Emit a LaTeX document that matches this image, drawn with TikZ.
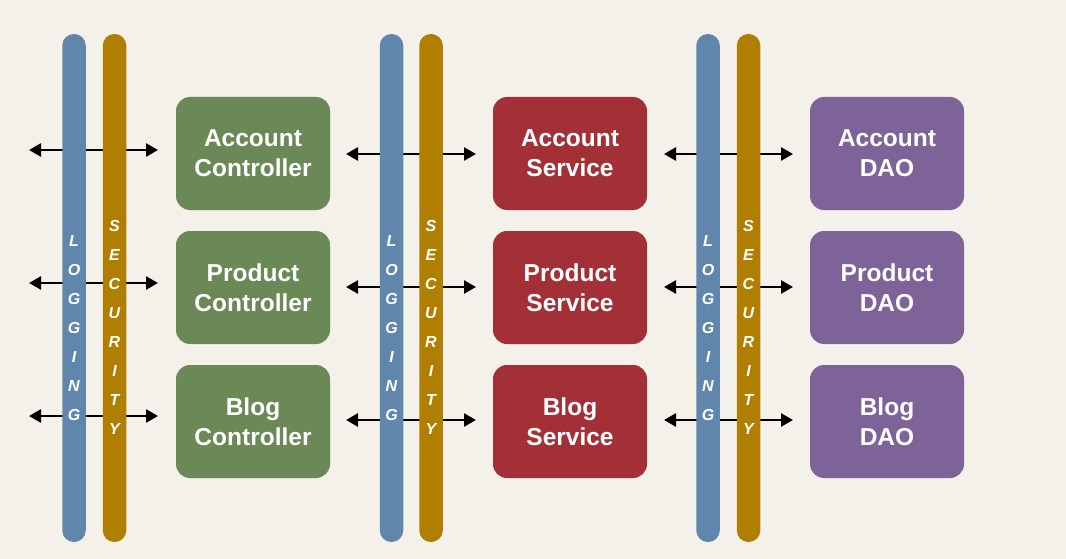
\documentclass[tikz,border=0pt]{standalone}
\usepackage{fontspec}
\setmainfont{Liberation Sans}
\usetikzlibrary{arrows.meta}
\definecolor{bg}{HTML}{F4F1EA}
\definecolor{logblue}{HTML}{6186AB}
\definecolor{secgold}{HTML}{B07F02}
\definecolor{ctrlgreen}{HTML}{6A8956}
\definecolor{servred}{HTML}{A33036}
\definecolor{daopurple}{HTML}{7E6399}
\tikzset{
  barlog/.style={fill=logblue, rounded corners=11.5pt},
  barsec/.style={fill=secgold, rounded corners=11.5pt},
  boxbase/.style={minimum width=154pt, minimum height=113pt, rounded corners=14pt, text=white,
    font=\fontsize{24.5}{30}\selectfont\bfseries, align=center, inner sep=0pt},
  ctrl/.style={boxbase, fill=ctrlgreen},
  serv/.style={boxbase, fill=servred},
  dao/.style={boxbase, fill=daopurple},
  letter/.style={text=white, font=\fontsize{16}{16}\selectfont\bfseries\itshape, inner sep=0pt},
  conn/.style={line width=2.6pt, line cap=round, {Triangle[length=12pt,width=13pt]}-{Triangle[length=12pt,width=13pt]}},
}
\begin{document}
\begin{tikzpicture}[x=1pt,y=-1pt]
\fill[bg] (0,0) rectangle (1066,559);
\useasboundingbox (0,0) rectangle (1066,559);
% connectors (behind bars)
\foreach \r/\ya/\yb in {1/150/154, 2/283/287, 3/416/420}{
  \coordinate (a\r L) at (29,\ya); \coordinate (a\r R) at (158,\ya);
  \coordinate (b\r L) at (346,\yb); \coordinate (b\r R) at (476,\yb);
  \coordinate (c\r L) at (664,\yb); \coordinate (c\r R) at (793,\yb);
  \draw[conn] (a\r L) -- (a\r R);
  \draw[conn] (b\r L) -- (b\r R);
  \draw[conn] (c\r L) -- (c\r R);
}
% bars
\foreach \g/\xl/\xs in {1/74/114.5, 2/391.5/431, 3/708/748.5}{
  \fill[barlog] (\xl-11.75,34) rectangle (\xl+11.75,542);
  \fill[barsec] (\xs-11.75,34) rectangle (\xs+11.75,542);
  \foreach \ch [count=\i] in {L,O,G,G,I,N,G}{
    \node[letter] (log\g-\i) at (\xl,{241+29*(\i-1)}) {\ch};
  }
  \foreach \ch [count=\i] in {S,E,C,U,R,I,T,Y}{
    \node[letter] (sec\g-\i) at (\xs,{226+29*(\i-1)}) {\ch};
  }
}
% boxes
\node[ctrl] (accctrl) at (253,153.5) {Account\\Controller};
\node[ctrl] (prodctrl) at (253,287.5) {Product\\Controller};
\node[ctrl] (blogctrl) at (253,421.5) {Blog\\Controller};
\node[serv] (accserv) at (570,153.5) {Account\\Service};
\node[serv] (prodserv) at (570,287.5) {Product\\Service};
\node[serv] (blogserv) at (570,421.5) {Blog\\Service};
\node[dao] (accdao) at (887,153.5) {Account\\DAO};
\node[dao] (proddao) at (887,287.5) {Product\\DAO};
\node[dao] (blogdao) at (887,421.5) {Blog\\DAO};
\end{tikzpicture}
\end{document}
